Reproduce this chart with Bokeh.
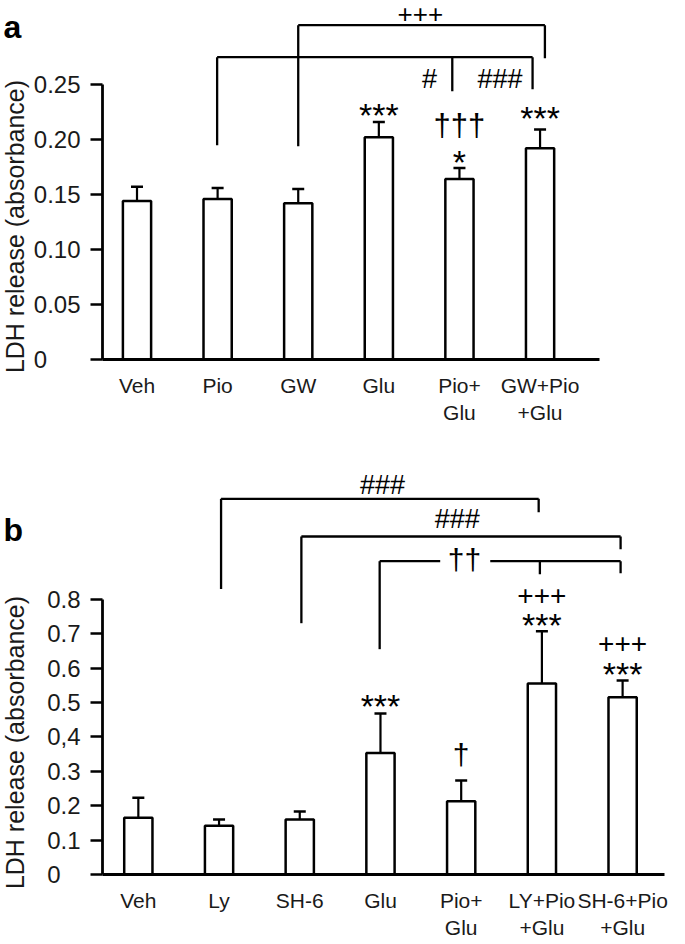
import math
from bokeh.plotting import figure
from bokeh.models import ColumnDataSource, Whisker, TeeHead, FixedTicker, Range1d
from bokeh.layouts import column, row
from bokeh.core.properties import value
from bokeh.embed import file_html
from bokeh.resources import INLINE

FONT = "Liberation Sans"

# ---------------- Panel a data ----------------
a_groups = ["Veh", "Pio", "GW", "Glu", "Pio+\nGlu", "GW+Pio\n+Glu"]
a_means = [0.144, 0.146, 0.142, 0.202, 0.164, 0.192]
a_errs = [0.013, 0.010, 0.013, 0.014, 0.010, 0.017]
a_ticks = [0, 0.05, 0.10, 0.15, 0.20, 0.25]
a_tick_labels = ["0\u00a0\u00a0\u00a0\u00a0\u00a0", "0.05", "0.10", "0.15", "0.20", "0.25"]

# significance marks: (group position, value at mark centre, text, font size)
a_marks_x = [3.515, 3.627, 4.504, 3, 4, 4, 5]
a_marks_y = [0.3139, 0.2548, 0.2548, 0.2226, 0.2130, 0.1798, 0.2198]
a_marks_t = ["+++", "#", "###", "***", "\u2020\u2020\u2020", "*", "***"]
a_marks_s = ["26px", "27px", "27px", "34px", "31px", "34px", "34px"]

# comparison brackets: horizontal bars (x0, x1, level) and drops (x, top, bottom)
a_hbar_x0 = [0.994, 2.0]
a_hbar_x1 = [4.907, 5.06]
a_hbar_y = [0.2748, 0.3039]
a_drop_x = [0.994, 3.911, 4.907, 2.0, 5.06]
a_drop_top = [0.2748, 0.2748, 0.2748, 0.3039, 0.3039]
a_drop_bot = [0.1948, 0.2439, 0.2457, 0.1939, 0.2739]

# ---------------- Panel b data ----------------
b_groups = ["Veh", "Ly", "SH-6", "Glu", "Pio+\nGlu", "LY+Pio\n+Glu", "SH-6+Pio\n+Glu"]
b_means = [0.165, 0.142, 0.160, 0.353, 0.213, 0.555, 0.515]
b_errs = [0.058, 0.018, 0.023, 0.115, 0.060, 0.152, 0.049]
b_ticks = [0, 0.1, 0.2, 0.3, 0.4, 0.5, 0.6, 0.7, 0.8]
b_tick_labels = ["0\u00a0\u00a0\u00a0", "0.1", "0.2", "0.3", "0,4", "0.5", "0.6", "0.7", "0.8"]

b_marks_x = [3.025, 3.95, 4.04, 5, 5, 6, 6, 3, 4]
b_marks_y = [1.1317, 1.0337, 0.9166, 0.8119, 0.7244, 0.6709, 0.5837, 0.4907, 0.3497]
b_marks_t = ["###", "###", "\u2020\u2020", "+++", "***", "+++", "***", "***", "\u2020"]
b_marks_s = ["27px", "27px", "30px", "28px", "34px", "28px", "34px", "34px", "30px"]

b_hbar_x0 = [1.025, 2.02, 2.99, 4.36]
b_hbar_x1 = [4.96, 5.975, 3.74, 5.975]
b_hbar_y = [1.092, 0.9826, 0.9108, 0.9108]
b_drop_x = [1.025, 4.96, 2.02, 5.975, 2.99, 4.975, 5.975]
b_drop_top = [1.092, 1.092, 0.9826, 0.9826, 0.9108, 0.9108, 0.9108]
b_drop_bot = [0.830, 1.053, 0.7305, 0.9456, 0.655, 0.873, 0.876]

# side texts (axis titles and panel letters)
side_texts = ["LDH release (absorbance)", "LDH release (absorbance)", "a", "b"]

FRAME_W = 564


def make_panel(groups, means, errs, ticks, tick_labels,
               marks_x, marks_y, marks_t, marks_s,
               hx0, hx1, hy, dx, dtop, dbot,
               height, x_start, x_axis_end, px_per_group, y_end, border_bottom):
    n = len(groups)
    x_end = x_start + FRAME_W / px_per_group
    p = figure(width=655, height=height,
               x_range=Range1d(x_start, x_end), y_range=Range1d(0, y_end),
               output_backend="svg", toolbar_location=None,
               min_border_left=70, min_border_right=21,
               min_border_top=0, min_border_bottom=border_bottom)
    p.outline_line_color = None
    p.xgrid.visible = False
    p.ygrid.visible = False
    p.background_fill_color = "white"
    p.border_fill_color = "white"

    xs = list(range(n))
    src = ColumnDataSource(dict(
        x=xs, top=means,
        upper=[m + e for m, e in zip(means, errs)],
        lower=[m - e for m, e in zip(means, errs)],
    ))
    p.vbar(x="x", top="top", width=0.35, source=src,
           fill_color="white", line_color="black", line_width=2.5)
    w = Whisker(source=src, base="x", upper="upper", lower="lower",
                line_color="black", line_width=2.2,
                upper_head=TeeHead(size=12, line_width=2.5, line_color="black"),
                lower_head=TeeHead(size=12, line_width=2.5, line_color="black"))
    p.add_layout(w)

    # brackets
    p.segment(x0=hx0, y0=hy, x1=hx1, y1=hy, line_color="black", line_width=2.3)
    p.segment(x0=dx, y0=dtop, x1=dx, y1=dbot, line_color="black", line_width=2.3)

    # significance marks
    msrc = ColumnDataSource(dict(x=marks_x, y=marks_y, t=marks_t, s=marks_s))
    p.text(x="x", y="y", text="t", text_font_size="s", source=msrc,
           text_font=value(FONT), text_align="center", text_baseline="middle",
           text_color="black")

    # y axis
    ya = p.yaxis[0]
    ya.ticker = FixedTicker(ticks=ticks)
    ya.major_label_overrides = {t: l for t, l in zip(ticks, tick_labels)}
    ya.bounds = (0, max(ticks))
    ya.axis_line_width = 2.8
    ya.axis_line_color = "black"
    ya.major_tick_line_width = 2.5
    ya.major_tick_line_color = "black"
    ya.major_tick_out = 12
    ya.major_tick_in = 0
    ya.minor_tick_line_color = None
    ya.major_label_standoff = 10
    ya.major_label_text_font = FONT
    ya.major_label_text_font_size = "24px"
    ya.major_label_text_color = "#1a1a1a"

    # x axis
    xa = p.xaxis[0]
    xa.ticker = FixedTicker(ticks=xs)
    xa.major_label_overrides = {i: g for i, g in zip(xs, groups)}
    xa.bounds = (x_start, x_axis_end)
    xa.axis_line_width = 2.8
    xa.axis_line_color = "black"
    xa.major_tick_line_color = None
    xa.minor_tick_line_color = None
    xa.major_label_standoff = 8
    xa.major_label_text_font = FONT
    xa.major_label_text_font_size = "21px"
    xa.major_label_text_color = "#1a1a1a"
    return p


pa = make_panel(a_groups, a_means, a_errs, a_ticks, a_tick_labels,
                a_marks_x, a_marks_y, a_marks_t, a_marks_s,
                a_hbar_x0, a_hbar_x1, a_hbar_y, a_drop_x, a_drop_top, a_drop_bot,
                height=448, x_start=-0.428, x_axis_end=5.74, px_per_group=80.9,
                y_end=359 / 1100, border_bottom=89)

pb = make_panel(b_groups, b_means, b_errs, b_ticks, b_tick_labels,
                b_marks_x, b_marks_y, b_marks_t, b_marks_s,
                b_hbar_x0, b_hbar_x1, b_hbar_y, b_drop_x, b_drop_top, b_drop_bot,
                height=496, x_start=-0.444, x_axis_end=6.519, px_per_group=81.0,
                y_end=426 / 344, border_bottom=70)

# left strip holding the rotated axis titles and the panel letters
strip = figure(width=30, height=944, x_range=Range1d(0, 30), y_range=Range1d(944, 0),
               output_backend="svg", toolbar_location=None,
               min_border_left=0, min_border_right=0, min_border_top=0, min_border_bottom=0)
strip.axis.visible = False
strip.xgrid.visible = False
strip.ygrid.visible = False
strip.outline_line_color = None
strip.text(x=[14, 14], y=[226, 742], text=side_texts[:2], angle=math.pi / 2,
           text_font=value(FONT), text_font_size="25px", text_align="center",
           text_baseline="middle", text_color="#1a1a1a")
strip.text(x=[3, 3], y=[26, 529], text=side_texts[2:],
           text_font=value(FONT), text_font_size="32px", text_font_style="bold",
           text_align="left", text_baseline="middle", text_color="black")

layout = row(strip, column(pa, pb, spacing=0), spacing=0)
open("out.html", "w").write(file_html(layout, INLINE))
